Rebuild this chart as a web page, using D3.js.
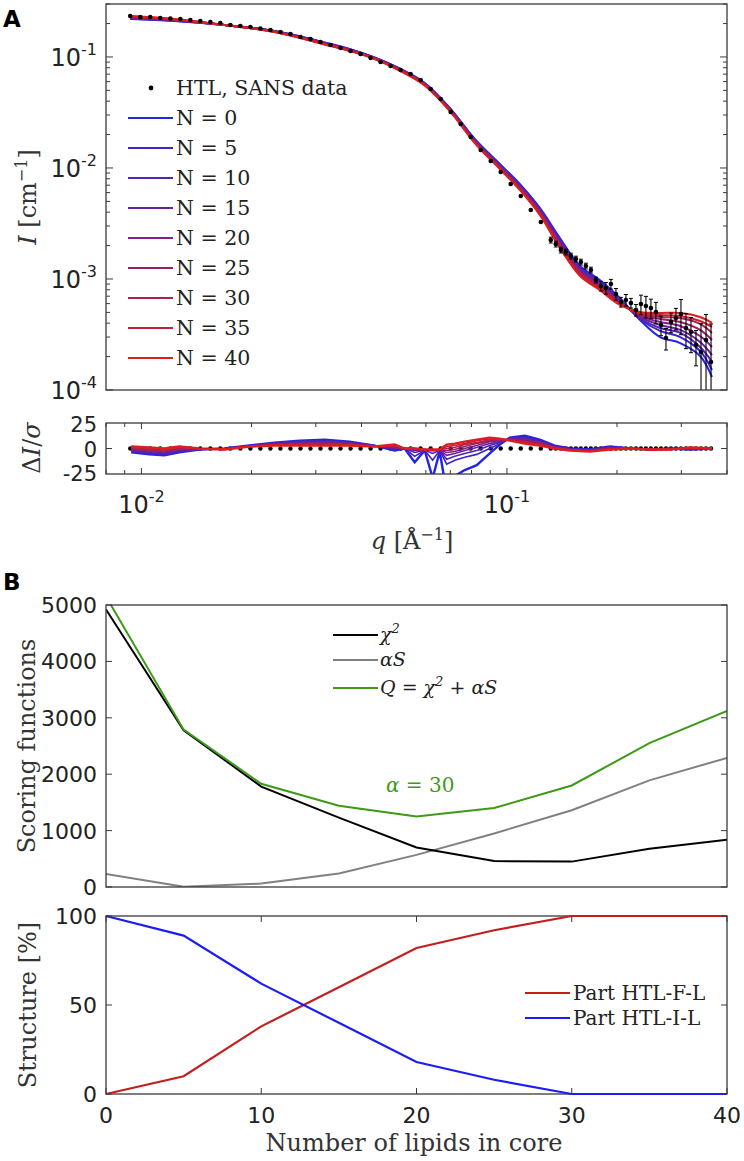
<!DOCTYPE html>
<html><head><meta charset="utf-8">
<script src="https://cdn.jsdelivr.net/npm/d3@7/dist/d3.min.js"></script>
<style>body{margin:0;background:#fff}svg{display:block}</style>
</head><body>
<svg id="c" width="744" height="1161"></svg>
<script>
// ---------------- DATA ----------------
// Panel A: SANS data (q in 1/Å, intensity stored as log10 I), relative errors
const qData = [0.00932,0.009927,0.01057,0.01126,0.01200,0.01278,0.01361,0.01449,0.01544,0.01644,0.01751,0.01865,0.01987,0.02116,0.02254,0.02401,0.02557,0.02724,0.02901,0.03090,0.03291,0.03505,0.03734,0.03977,0.04236,0.04511,0.04805,0.05118,0.05451,0.05806,0.06184,0.06587,0.07016,0.07472,0.07959,0.08477,0.09029,0.09617,0.1024,0.1091,0.1162,0.1238,0.1318,0.1360,0.1404,0.1449,0.1496,0.1544,0.1593,0.1644,0.1697,0.1751,0.1807,0.1865,0.1925,0.1987,0.2050,0.2116,0.2184,0.2254,0.2326,0.2400,0.2477,0.2556,0.2639,0.2723,0.2810,0.2900,0.2993,0.3089,0.3188,0.3290,0.3396,0.3505,0.3617];
const logIData = [-0.631,-0.640,-0.640,-0.649,-0.653,-0.658,-0.667,-0.676,-0.685,-0.694,-0.712,-0.721,-0.730,-0.743,-0.757,-0.775,-0.793,-0.820,-0.838,-0.865,-0.892,-0.919,-0.946,-0.973,-1.009,-1.045,-1.081,-1.117,-1.153,-1.207,-1.288,-1.378,-1.495,-1.604,-1.721,-1.838,-1.937,-2.036,-2.144,-2.252,-2.378,-2.486,-2.649,-2.685,-2.739,-2.757,-2.793,-2.820,-2.847,-2.883,-2.919,-3.009,-3.063,-3.081,-3.045,-3.135,-3.207,-3.189,-3.216,-3.279,-3.225,-3.243,-3.261,-3.297,-3.414,-3.532,-3.387,-3.351,-3.315,-3.441,-3.477,-3.595,-3.658,-3.550,-3.748];
const relErr = [0.02,0.02,0.02,0.02,0.02,0.02,0.02,0.02,0.02,0.02,0.02,0.02,0.02,0.02,0.02,0.02,0.02,0.02,0.02,0.02,0.02,0.02,0.02,0.02,0.02,0.02,0.03,0.03,0.03,0.03,0.03,0.03,0.03,0.03,0.03,0.03,0.03,0.03,0.03,0.03,0.03,0.03,0.06,0.06,0.06,0.06,0.06,0.06,0.06,0.06,0.06,0.06,0.1,0.12,0.1,0.12,0.1,0.12,0.1,0.12,0.2,0.22,0.2,0.22,0.2,0.22,0.2,0.22,0.35,0.35,0.35,0.35,0.8,0.7,1.2];

// Model curves (log10 I) for N lipids in core
const nLabels = [0,5,10,15,20,25,30,35,40];
const qModel = [0.00932,0.0123,0.01687,0.02312,0.0317,0.03711,0.04345,0.05087,0.05957,0.06974,0.08166,0.09561,0.1084,0.1230,0.1396,0.1585,0.1795,0.2037,0.2312,0.2624,0.2979,0.3376,0.364];
const modelN0  = [-0.658,-0.676,-0.712,-0.766,-0.869,-0.928,-1.005,-1.104,-1.234,-1.459,-1.739,-1.964,-2.144,-2.360,-2.631,-2.883,-3.009,-3.171,-3.369,-3.523,-3.577,-3.694,-3.883];
const modelN5  = [-0.655,-0.674,-0.712,-0.767,-0.871,-0.930,-1.007,-1.106,-1.237,-1.462,-1.744,-1.970,-2.151,-2.368,-2.642,-2.894,-3.020,-3.179,-3.360,-3.468,-3.523,-3.649,-3.820];
const modelN10 = [-0.651,-0.672,-0.712,-0.768,-0.874,-0.933,-1.008,-1.109,-1.240,-1.466,-1.748,-1.975,-2.158,-2.376,-2.653,-2.905,-3.031,-3.187,-3.351,-3.441,-3.486,-3.613,-3.748];
const modelN15 = [-0.648,-0.669,-0.712,-0.769,-0.876,-0.935,-1.010,-1.111,-1.243,-1.469,-1.753,-1.981,-2.164,-2.384,-2.665,-2.917,-3.043,-3.195,-3.342,-3.414,-3.459,-3.568,-3.685];
const modelN20 = [-0.645,-0.667,-0.712,-0.770,-0.878,-0.937,-1.012,-1.113,-1.246,-1.473,-1.757,-1.986,-2.171,-2.392,-2.676,-2.928,-3.054,-3.203,-3.333,-3.387,-3.423,-3.514,-3.613];
const modelN25 = [-0.641,-0.665,-0.712,-0.772,-0.880,-0.939,-1.013,-1.115,-1.248,-1.476,-1.762,-1.992,-2.178,-2.399,-2.687,-2.939,-3.065,-3.210,-3.324,-3.360,-3.387,-3.459,-3.550];
const modelN30 = [-0.638,-0.663,-0.712,-0.773,-0.883,-0.942,-1.015,-1.118,-1.251,-1.479,-1.766,-1.998,-2.185,-2.407,-2.698,-2.950,-3.076,-3.218,-3.315,-3.342,-3.351,-3.405,-3.486];
const modelN35 = [-0.634,-0.660,-0.712,-0.774,-0.885,-0.944,-1.016,-1.120,-1.254,-1.483,-1.771,-2.003,-2.191,-2.415,-2.710,-2.962,-3.088,-3.226,-3.306,-3.324,-3.333,-3.378,-3.432];
const modelN40 = [-0.631,-0.658,-0.712,-0.775,-0.887,-0.946,-1.018,-1.122,-1.257,-1.486,-1.775,-2.009,-2.198,-2.423,-2.721,-2.973,-3.099,-3.234,-3.297,-3.306,-3.306,-3.342,-3.396];

// Residuals ΔI/σ
const qRes = [0.00938,0.01051,0.01155,0.01270,0.01440,0.01687,0.01975,0.02312,0.02707,0.03170,0.03711,0.04345,0.04929,0.05250,0.05593,0.05957,0.06264,0.06547,0.06842,0.07199,0.07665,0.08268,0.08977,0.09561,0.1018,0.1119,0.1230,0.1352,0.1487,0.1687,0.1913,0.2171,0.2462,0.2793,0.3170,0.364];
const resN0  = [-4,-6,-7,-4,-1,0,3,6,8,9,7,3,-2,0,-14,-2,-30,-3,-45,-28,-22,-17,-5,4,11,13,9,3,0,-1,2,0,-1,0,-1,0];
const resN5  = [-3.2,-5.1,-6.1,-3.2,-0.9,-0.1,2.9,5.6,7.4,8.2,6.5,2.9,-1.2,0,-8,-1.9,-12,-1.9,-16,-12,-9,-6,0,5,10.6,12,8.2,2.6,-0.2,-1.2,1.6,0,-1,-0.1,-0.8,0];
const resN10 = [-2.5,-4.2,-5.2,-2.5,-0.8,-0.2,2.8,5.2,6.8,7.5,6,2.8,-0.5,0,-4,-1.8,-5,-1.8,-11,-8,-5,-2,3,6,10.2,11,7.5,2.2,-0.5,-1.5,1.2,0,-1,-0.2,-0.5,0];
const resN15 = [-1.8,-3.4,-4.4,-1.8,-0.6,-0.4,2.6,4.9,6.1,6.8,5.5,2.6,0.2,0,-2,-1.6,-2.2,-1.6,-7,-5,-2,1,5,7,9.9,10,6.8,1.9,-0.8,-1.8,0.9,0,-1,-0.4,-0.2,0];
const resN20 = [-1,-2.5,-3.5,-1,-0.5,-0.5,2.5,4.5,5.5,6,5,2.5,1,0,-1,-1.5,-2,-1.5,-4,-3,0,3,7,8,9.5,9,6,1.5,-1,-2,0.5,0,-1,-0.5,0,0];
const resN25 = [-0.2,-1.6,-2.6,-0.2,-0.4,-0.6,2.4,4.1,4.9,5.2,4.5,2.4,1.8,0,0,-1.4,-1.8,-1.4,-2,-1,2,5,8,9,9.1,8,5.2,1.1,-1.2,-2.2,0.1,0,-1,-0.6,0.2,0];
const resN30 = [0.5,-0.8,-1.8,0.5,-0.2,-0.8,2.2,3.8,4.2,4.5,4,2.2,2.5,0,0,-1.2,-1.5,-1.2,0,1,4,6,9,9.5,8.8,7,4.5,0.8,-1.5,-2.5,-0.2,0,-1,-0.8,0.5,0];
const resN35 = [1.2,0.1,-0.9,1.2,-0.1,-0.9,2.1,3.4,3.6,3.8,3.5,2.1,3.2,0,0,-1.1,-1.2,-1.1,2,3,5,8,10,10,8.4,6,3.8,0.4,-1.8,-2.8,-0.6,0,-1,-0.9,0.8,0];
const resN40 = [2,1,0,2,0,-1,2,3,3,3,3,2,4,0,0,-1,-1,-1,4,5,7,9,11,10,8,5,3,0,-2,-3,-1,0,-1,-1,1,0];

const yDecadesA = [1e-4,1e-3,1e-2,1e-1];
const xDecadesA = [1e-2,1e-1];
const resTicks = [-25,0,25];

// Panel B
const nLipids = [0,5,10,15,20,25,30,35,40];
const chi2   = [4920,2780,1780,1230,700,460,450,680,840];
const alphaS = [230,5,60,240,570,950,1360,1890,2290];
const Qscore = [5150,2790,1830,1440,1250,1400,1800,2550,3120];
const partFL = [0,10,38,60,82,92,100,100,100];
const partIL = [100,89,62,40,18,8,0,0,0];
const scoreTicks = [0,1000,2000,3000,4000,5000];
const structTicks = [0,50,100];
const lipidTicks = [0,10,20,30,40];

// ---------------- DRAW ----------------
const svg = d3.select("#c");
const SANS = "'DejaVu Sans', sans-serif";
const SERIF = "'DejaVu Serif', serif";
const FRAME = "#3a3a3a";

const modelSeries = [modelN0,modelN5,modelN10,modelN15,modelN20,modelN25,modelN30,modelN35,modelN40];
const resSeries = [resN0,resN5,resN10,resN15,resN20,resN25,resN30,resN35,resN40];
const colorOf = d3.scaleLinear().domain([0,40]).range(["#2424e8","#dc1e1e"]).interpolate(d3.interpolateRgb);

const xA = d3.scaleLog().domain([0.008,0.4]).range([106,727]);
const yA = d3.scaleLog().domain([1e-4,0.3]).range([390,4]);
const yR = d3.scaleLinear().domain([-26,26]).range([474,423]);

const defs = svg.append("defs");
function clip(id,x,y,w,h){defs.append("clipPath").attr("id",id).append("rect").attr("x",x).attr("y",y).attr("width",w).attr("height",h);}
clip("cA",106,4,621,386);
clip("cR",106,423,621,51);
clip("cB1",106,605,621,282);
clip("cB2",104,914,625,182);

function logTicks(scale){
  const [a,b]=scale.domain(); const out=[];
  for(let e=Math.floor(Math.log10(a)); e<=Math.ceil(Math.log10(b)); e++){
    for(let m=1;m<=9;m++){const v=m*Math.pow(10,e); if(v>=a*0.999 && v<=b*1.001) out.push({v,major:m===1});}
  }
  return out;
}

// ---- Panel A main ----
const gA = svg.append("g");
const lineA = d3.line().x(d=>xA(d[0])).y(d=>yA(d[1])).curve(d3.curveCatmullRom.alpha(0.5));
const gm = gA.append("g").attr("clip-path","url(#cA)");
modelSeries.forEach((s,i)=>{
  gm.append("path").datum(qModel.map((q,j)=>[q,Math.pow(10,s[j])]))
    .attr("d",lineA).attr("fill","none").attr("stroke",colorOf(nLabels[i])).attr("stroke-width",2);
});
const gd = gA.append("g").attr("clip-path","url(#cA)");
qData.forEach((q,i)=>{
  const I=Math.pow(10,logIData[i]); const s=relErr[i]*I;
  const yTop=yA(I+s); const yBot = (I-s)>1e-4 ? yA(I-s) : 400;
  const x=xA(q);
  gd.append("line").attr("x1",x).attr("x2",x).attr("y1",yTop).attr("y2",yBot).attr("stroke","#000").attr("stroke-width",1.1);
  if(relErr[i]>0.05){
    gd.append("line").attr("x1",x-2).attr("x2",x+2).attr("y1",yTop).attr("y2",yTop).attr("stroke","#000").attr("stroke-width",1);
    if(yBot<390) gd.append("line").attr("x1",x-2).attr("x2",x+2).attr("y1",yBot).attr("y2",yBot).attr("stroke","#000").attr("stroke-width",1);
  }
  gd.append("circle").attr("cx",x).attr("cy",yA(I)).attr("r",2.3).attr("fill","#000");
});
gA.append("rect").attr("x",106).attr("y",4).attr("width",621).attr("height",386).attr("fill","none").attr("stroke",FRAME).attr("stroke-width",1.3);
logTicks(yA).forEach(t=>{
  const y=yA(t.v), L=t.major?7:4;
  gA.append("line").attr("x1",106).attr("x2",106+L).attr("y1",y).attr("y2",y).attr("stroke",FRAME);
  gA.append("line").attr("x1",727).attr("x2",727-L).attr("y1",y).attr("y2",y).attr("stroke",FRAME);
});
yDecadesA.forEach(v=>{
  const t=gA.append("text").attr("x",97).attr("y",yA(v)+9).attr("text-anchor","end")
    .attr("font-family",SANS).attr("font-size",24).attr("fill","#222");
  t.append("tspan").text("10");
  t.append("tspan").attr("dy",-11).attr("font-size",16).text(String(Math.round(Math.log10(v))));
});
const yl=gA.append("text").attr("transform","translate(36,197) rotate(-90)").attr("text-anchor","middle")
  .attr("font-family",SERIF).attr("font-size",24).attr("fill","#333");
yl.append("tspan").attr("font-style","italic").text("I");
yl.append("tspan").text(" [cm");
yl.append("tspan").attr("dy",-9).attr("font-size",16).text("\u22121");
yl.append("tspan").attr("dy",9).text("]");

const gl = gA.append("g").attr("font-family",SERIF).attr("font-size",20.5).attr("fill","#222");
gl.append("circle").attr("cx",151).attr("cy",88).attr("r",2.4).attr("fill","#000");
gl.append("text").attr("x",176).attr("y",95).text("HTL, SANS data");
nLabels.forEach((n,i)=>{
  const y=118+30*i;
  gl.append("line").attr("x1",128).attr("x2",173).attr("y1",y).attr("y2",y).attr("stroke",colorOf(n)).attr("stroke-width",2);
  gl.append("text").attr("x",176).attr("y",y+7).text("N = "+n);
});

// ---- Residual panel ----
const gR = svg.append("g");
const gRc = gR.append("g").attr("clip-path","url(#cR)");
qData.forEach(q=>{ gRc.append("circle").attr("cx",xA(q)).attr("cy",yR(0)).attr("r",2.2).attr("fill","#000"); });
const lineR = d3.line().x(d=>xA(d[0])).y(d=>yR(d[1]));
resSeries.forEach((s,i)=>{
  gRc.append("path").datum(qRes.map((q,j)=>[q,s[j]])).attr("d",lineR).attr("fill","none")
    .attr("stroke",colorOf(nLabels[i])).attr("stroke-width",i===0||i===8?2.4:1.6);
});
gR.append("rect").attr("x",106).attr("y",423).attr("width",621).attr("height",51).attr("fill","none").attr("stroke",FRAME).attr("stroke-width",1.3);
logTicks(xA).forEach(t=>{
  const x=xA(t.v), L=t.major?6:4;
  gR.append("line").attr("x1",x).attr("x2",x).attr("y1",423).attr("y2",423+L).attr("stroke",FRAME);
  gR.append("line").attr("x1",x).attr("x2",x).attr("y1",474).attr("y2",474-L).attr("stroke",FRAME);
});
resTicks.forEach(v=>{
  const y=yR(v);
  if(v===0){
    gR.append("line").attr("x1",106).attr("x2",112).attr("y1",y).attr("y2",y).attr("stroke",FRAME);
    gR.append("line").attr("x1",727).attr("x2",721).attr("y1",y).attr("y2",y).attr("stroke",FRAME);
  }
  gR.append("text").attr("x",97).attr("y",y+8).attr("text-anchor","end").attr("font-family",SANS).attr("font-size",21).attr("fill","#222").text(v);
});
xDecadesA.forEach(v=>{
  const t=gR.append("text").attr("x",xA(v)).attr("y",513).attr("text-anchor","middle")
    .attr("font-family",SANS).attr("font-size",24).attr("fill","#222");
  t.append("tspan").text("10");
  t.append("tspan").attr("dy",-11).attr("font-size",16).text(String(Math.round(Math.log10(v))));
});
const rl=gR.append("text").attr("transform","translate(40,448) rotate(-90)").attr("text-anchor","middle")
  .attr("font-family",SERIF).attr("font-size",24).attr("fill","#333");
rl.append("tspan").text("\u0394");
rl.append("tspan").attr("font-style","italic").text("I");
rl.append("tspan").text("/");
rl.append("tspan").attr("font-style","italic").text("\u03c3");
const xl=gR.append("text").attr("x",412).attr("y",549).attr("text-anchor","middle").attr("font-family",SERIF).attr("font-size",24).attr("fill","#333");
xl.append("tspan").attr("font-style","italic").text("q");
xl.append("tspan").text(" [\u00c5");
xl.append("tspan").attr("dy",-9).attr("font-size",16).text("\u22121");
xl.append("tspan").attr("dy",9).text("]");

// ---- Panel B top ----
const xB = d3.scaleLinear().domain([0,40]).range([106,727]);
const yB1 = d3.scaleLinear().domain([0,5000]).range([887,605]);
const yB2 = d3.scaleLinear().domain([0,100]).range([1094,916]);
const gB = svg.append("g");
const gB1c = gB.append("g").attr("clip-path","url(#cB1)");
const lineB1 = (arr)=>d3.line().x((d,i)=>xB(nLipids[i])).y(d=>yB1(d))(arr);
gB1c.append("path").attr("d",lineB1(alphaS)).attr("fill","none").attr("stroke","#808080").attr("stroke-width",2);
gB1c.append("path").attr("d",lineB1(chi2)).attr("fill","none").attr("stroke","#000").attr("stroke-width",2);
gB1c.append("path").attr("d",lineB1(Qscore)).attr("fill","none").attr("stroke","#3c9a16").attr("stroke-width",2);
gB.append("rect").attr("x",106).attr("y",605).attr("width",621).attr("height",282).attr("fill","none").attr("stroke",FRAME).attr("stroke-width",1.3);
scoreTicks.forEach(v=>{
  const y=yB1(v);
  gB.append("line").attr("x1",106).attr("x2",112).attr("y1",y).attr("y2",y).attr("stroke",FRAME);
  gB.append("line").attr("x1",727).attr("x2",721).attr("y1",y).attr("y2",y).attr("stroke",FRAME);
  gB.append("text").attr("x",97).attr("y",y+8).attr("text-anchor","end").attr("font-family",SANS).attr("font-size",22).attr("fill","#222").text(v);
});
gB.append("text").attr("transform","translate(35,746) rotate(-90)").attr("text-anchor","middle")
  .attr("font-family",SERIF).attr("font-size",24).attr("fill","#333").text("Scoring functions");
const lg1 = gB.append("g").attr("font-family",SERIF).attr("font-size",19).attr("fill","#222");
[["#000",635],["#808080",660],["#3c9a16",688]].forEach(([c,y])=>{
  lg1.append("line").attr("x1",333).attr("x2",378).attr("y1",y).attr("y2",y).attr("stroke",c).attr("stroke-width",2);
});
let t1=lg1.append("text").attr("x",380).attr("y",641).attr("font-style","italic");
t1.append("tspan").text("\u03c7"); t1.append("tspan").attr("dy",-8).attr("font-size",13).text("2");
lg1.append("text").attr("x",380).attr("y",666).attr("font-style","italic").text("\u03b1S");
let t3=lg1.append("text").attr("x",380).attr("y",694).attr("font-style","italic");
t3.append("tspan").text("Q ");
t3.append("tspan").attr("font-style","normal").text("= ");
t3.append("tspan").text("\u03c7");
t3.append("tspan").attr("dy",-8).attr("font-size",13).text("2");
t3.append("tspan").attr("dy",8).attr("font-style","normal").text(" + ");
t3.append("tspan").text("\u03b1S");
const al=gB.append("text").attr("x",386).attr("y",792).attr("font-family",SERIF).attr("font-size",20).attr("fill","#3c9a16");
al.append("tspan").attr("font-style","italic").text("\u03b1");
al.append("tspan").text(" = 30");

// ---- Panel B bottom ----
gB.append("rect").attr("x",106).attr("y",916).attr("width",621).attr("height",178).attr("fill","none").attr("stroke",FRAME).attr("stroke-width",1.3);
const lineB2 = (arr)=>d3.line().x((d,i)=>xB(nLipids[i])).y(d=>yB2(d))(arr);
const gB2l = gB.append("g").attr("clip-path","url(#cB2)");
gB2l.append("path").attr("d",lineB2(partFL)).attr("fill","none").attr("stroke","#c41e1e").attr("stroke-width",2.2);
gB2l.append("path").attr("d",lineB2(partIL)).attr("fill","none").attr("stroke","#1c1cf5").attr("stroke-width",2.2);
lipidTicks.forEach(v=>{
  const x=xB(v);
  gB.append("line").attr("x1",x).attr("x2",x).attr("y1",916).attr("y2",922).attr("stroke",FRAME);
  gB.append("line").attr("x1",x).attr("x2",x).attr("y1",1094).attr("y2",1088).attr("stroke",FRAME);
  gB.append("text").attr("x",x).attr("y",1123).attr("text-anchor","middle").attr("font-family",SANS).attr("font-size",22).attr("fill","#222").text(v);
});
structTicks.forEach(v=>{
  const y=yB2(v);
  gB.append("line").attr("x1",106).attr("x2",112).attr("y1",y).attr("y2",y).attr("stroke",FRAME);
  gB.append("line").attr("x1",727).attr("x2",721).attr("y1",y).attr("y2",y).attr("stroke",FRAME);
  gB.append("text").attr("x",97).attr("y",y+8).attr("text-anchor","end").attr("font-family",SANS).attr("font-size",22).attr("fill","#222").text(v);
});
gB.append("text").attr("transform","translate(36,1005) rotate(-90)").attr("text-anchor","middle")
  .attr("font-family",SERIF).attr("font-size",24).attr("fill","#333").text("Structure [%]");
gB.append("text").attr("x",414).attr("y",1151).attr("text-anchor","middle")
  .attr("font-family",SERIF).attr("font-size",24).attr("fill","#333").text("Number of lipids in core");
const lg2 = gB.append("g").attr("font-family",SERIF).attr("font-size",20).attr("fill","#222");
[["#c41e1e",993,"Part HTL-F-L"],["#1c1cf5",1018,"Part HTL-I-L"]].forEach(([c,y,s])=>{
  lg2.append("line").attr("x1",525).attr("x2",570).attr("y1",y).attr("y2",y).attr("stroke",c).attr("stroke-width",2.2);
  lg2.append("text").attr("x",573).attr("y",y+7).text(s);
});

svg.append("text").attr("x",3).attr("y",27).attr("font-family",SANS).attr("font-weight","bold").attr("font-size",23).text("A");
svg.append("text").attr("x",3).attr("y",590).attr("font-family",SANS).attr("font-weight","bold").attr("font-size",23).text("B");
</script></body></html>
